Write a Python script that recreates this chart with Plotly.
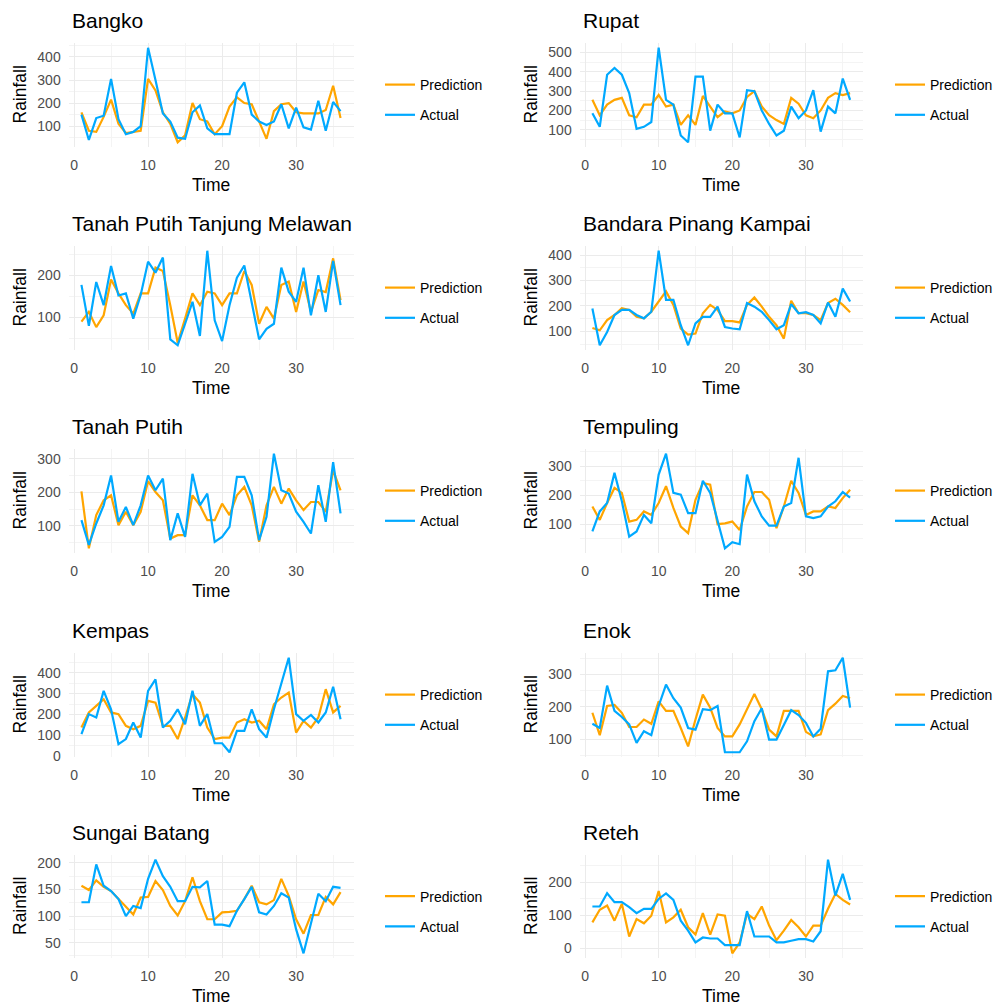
import plotly.graph_objects as go

time = list(range(1, 37))

stations = ["Bangko", "Rupat", "Tanah Putih Tanjung Melawan", "Bandara Pinang Kampai",
            "Tanah Putih", "Tempuling", "Kempas", "Enok", "Sungai Batang", "Reteh"]

bangko_pred = [160, 80, 75, 140, 215, 110, 70, 75, 80, 305, 255, 160, 110, 30, 60, 200, 130, 120,
               65, 100, 185, 225, 200, 195, 120, 45, 165, 195, 200, 160, 155, 155, 155, 170, 275, 135]
bangko_act = [150, 40, 135, 145, 305, 130, 65, 75, 100, 440, 300, 155, 120, 50, 45, 160, 190, 90,
              65, 65, 65, 245, 290, 150, 120, 105, 120, 195, 90, 180, 95, 85, 210, 80, 205, 165]

rupat_pred = [255, 175, 230, 255, 265, 175, 165, 230, 230, 280, 220, 230, 125, 175, 125, 275, 220, 165,
              195, 185, 200, 270, 300, 220, 175, 150, 130, 265, 235, 175, 160, 200, 265, 290, 280, 290]
rupat_act = [185, 115, 385, 420, 385, 290, 105, 115, 140, 525, 255, 230, 70, 35, 375, 375, 95, 230,
             185, 185, 60, 305, 300, 200, 130, 70, 95, 220, 160, 200, 305, 90, 220, 185, 365, 255]

tptm_pred = [90, 113, 77, 105, 190, 157, 129, 109, 157, 157, 218, 210, 129, 40, 97, 157, 129, 161,
             157, 129, 157, 157, 210, 177, 85, 125, 97, 177, 185, 113, 185, 113, 165, 160, 240, 141]
tptm_act = [177, 80, 184, 129, 222, 152, 157, 97, 153, 232, 206, 242, 48, 34, 85, 137, 56, 258,
            93, 44, 129, 194, 223, 137, 48, 73, 85, 218, 161, 137, 218, 105, 200, 113, 234, 129]

bpk_pred = [113, 104, 144, 164, 191, 184, 157, 151, 177, 217, 257, 204, 111, 87, 91, 171, 204, 184,
            140, 140, 135, 204, 233, 197, 157, 124, 71, 220, 171, 171, 164, 144, 211, 228, 204, 175]
bpk_act = [190, 45, 97, 164, 184, 184, 164, 151, 177, 417, 224, 224, 124, 45, 131, 157, 157, 197,
           117, 111, 108, 211, 197, 177, 144, 108, 124, 207, 171, 175, 164, 131, 213, 157, 268, 217]

tp_pred = [203, 33, 132, 176, 191, 102, 142, 102, 142, 233, 201, 176, 62, 72, 72, 191, 161, 117,
           117, 166, 132, 191, 216, 161, 52, 161, 216, 166, 211, 176, 147, 171, 171, 142, 265, 206]
tp_act = [117, 43, 107, 161, 250, 112, 156, 102, 161, 250, 206, 241, 57, 137, 67, 255, 161, 196,
          52, 67, 97, 246, 246, 191, 57, 127, 315, 206, 196, 142, 112, 77, 221, 112, 290, 137]

temp_pred = [161, 115, 173, 225, 208, 109, 115, 144, 132, 173, 231, 156, 92, 69, 184, 242, 236, 100,
             103, 109, 80, 161, 211, 211, 184, 86, 161, 250, 208, 132, 144, 144, 161, 156, 190, 219]
temp_act = [75, 144, 173, 277, 179, 57, 75, 132, 103, 271, 343, 208, 202, 138, 138, 250, 208, 109,
            17, 38, 31, 271, 179, 127, 95, 95, 161, 173, 329, 127, 121, 127, 161, 179, 211, 192]

kempas_pred = [138, 210, 241, 273, 210, 202, 146, 130, 146, 265, 257, 146, 146, 83, 186, 297, 257, 138,
               83, 90, 90, 162, 178, 162, 170, 130, 249, 281, 305, 114, 170, 138, 186, 321, 210, 241]
kempas_act = [106, 202, 186, 313, 225, 59, 83, 162, 90, 313, 368, 138, 170, 225, 154, 313, 146, 202,
              63, 63, 20, 122, 122, 225, 130, 90, 225, 352, 471, 202, 170, 198, 162, 210, 332, 178]

enok_pred = [182, 113, 203, 206, 182, 138, 138, 161, 148, 217, 188, 188, 135, 78, 161, 238, 198, 135,
             109, 109, 146, 193, 240, 193, 130, 109, 188, 188, 188, 123, 109, 115, 190, 210, 234, 227]
enok_act = [148, 135, 266, 188, 169, 146, 89, 125, 113, 203, 269, 227, 198, 135, 130, 193, 190, 203,
            60, 60, 60, 94, 156, 196, 99, 99, 146, 190, 175, 151, 109, 133, 310, 313, 352, 198]

sb_pred = [157, 149, 167, 155, 147, 132, 117, 103, 135, 136, 166, 149, 119, 101, 128, 173, 128, 94,
           94, 107, 108, 110, 132, 157, 126, 122, 130, 170, 138, 94, 67, 102, 102, 136, 122, 145]
sb_act = [126, 126, 197, 157, 147, 132, 100, 119, 115, 170, 206, 175, 155, 128, 128, 155, 154, 166,
          84, 84, 81, 110, 132, 155, 107, 103, 119, 143, 135, 75, 30, 84, 142, 128, 155, 153]

reteh_pred = [78, 116, 129, 83, 134, 35, 88, 75, 98, 173, 78, 93, 116, 63, 41, 106, 41, 102,
              98, -16, 17, 104, 88, 126, 68, 24, 53, 85, 63, 35, 68, 68, 119, 164, 146, 132]
reteh_act = [126, 126, 166, 139, 139, 124, 106, 119, 119, 149, 166, 146, 83, 53, 17, 32, 29, 29,
             9, 9, 9, 112, 35, 35, 35, 17, 17, 22, 27, 27, 20, 51, 268, 159, 225, 146]

predictions = [bangko_pred, rupat_pred, tptm_pred, bpk_pred, tp_pred,
               temp_pred, kempas_pred, enok_pred, sb_pred, reteh_pred]
actuals = [bangko_act, rupat_act, tptm_act, bpk_act, tp_act,
           temp_act, kempas_act, enok_act, sb_act, reteh_act]

y_dtick = [100, 100, 100, 100, 100, 100, 100, 100, 50, 100]
x_ticks = [0, 10, 20, 30]

W, H = 1005, 1007
col_px = [(68.5, 353.5), (579.5, 863.0)]
row_px = [(43, 147), (246, 350), (449, 553), (653, 757), (855, 958)]
legend_x_px = [380, 890]

ORANGE = "#FFA500"
BLUE = "#00A9FF"
FONT = "Liberation Sans, Arial, sans-serif"

fig = go.Figure()
layout = dict(
    width=W, height=H, margin=dict(l=0, r=0, t=0, b=0),
    paper_bgcolor="white", plot_bgcolor="white",
    font=dict(family=FONT, color="black"),
    annotations=[],
)

def px_x(v):
    return v / W

def px_y(v):
    return 1 - v / H

for i, name in enumerate(stations):
    r, c = divmod(i, 2)
    x0, x1 = col_px[c]
    y0, y1 = row_px[r]
    ax = "" if i == 0 else str(i + 1)
    leg = "legend" if i == 0 else f"legend{i + 1}"

    pred = predictions[i]
    act = actuals[i]
    lo = min(min(pred), min(act))
    hi = max(max(pred), max(act))
    pad = (hi - lo) * 0.05
    xpad = (max(time) - min(time)) * 0.05

    fig.add_trace(go.Scatter(x=time, y=pred, mode="lines", name="Prediction",
                             line=dict(color=ORANGE, width=2.2),
                             xaxis="x" + ax, yaxis="y" + ax, legend=leg,
                             legendgroup=f"p{i}"))
    fig.add_trace(go.Scatter(x=time, y=act, mode="lines", name="Actual",
                             line=dict(color=BLUE, width=2.2),
                             xaxis="x" + ax, yaxis="y" + ax, legend=leg,
                             legendgroup=f"a{i}"))

    layout["xaxis" + ax] = dict(
        domain=[px_x(x0), px_x(x1)], anchor="y" + ax,
        range=[min(time) - xpad, max(time) + xpad],
        tickmode="array", tickvals=x_ticks,
        showgrid=True, gridcolor="#EBEBEB", gridwidth=1.1,
        minor=dict(showgrid=True, gridcolor="#F4F4F4", gridwidth=1, dtick=5, tick0=0),
        zeroline=False, showline=False,
        ticks="outside", ticklen=5, tickcolor="rgba(0,0,0,0)",
        tickfont=dict(size=14, color="#4D4D4D", family=FONT),
        automargin=False, fixedrange=True,
    )
    layout["yaxis" + ax] = dict(
        domain=[px_y(y1), px_y(y0)], anchor="x" + ax,
        range=[lo - pad, hi + pad],
        tick0=0, dtick=y_dtick[i],
        showgrid=True, gridcolor="#EBEBEB", gridwidth=1.1,
        minor=dict(showgrid=True, gridcolor="#F4F4F4", gridwidth=1,
                   dtick=y_dtick[i] / 2, tick0=0),
        zeroline=False, showline=False,
        ticks="outside", ticklen=4, tickcolor="rgba(0,0,0,0)",
        tickfont=dict(size=14, color="#4D4D4D", family=FONT),
        automargin=False, fixedrange=True,
    )
    layout[leg] = dict(
        x=px_x(legend_x_px[c]), y=px_y((y0 + y1) / 2 + 5),
        xanchor="left", yanchor="middle",
        bgcolor="rgba(0,0,0,0)", borderwidth=0,
        font=dict(size=14, color="black", family=FONT),
        traceorder="grouped", tracegroupgap=9,
    )
    # panel title
    layout["annotations"].append(dict(
        text=name, x=px_x(x0 + 1), y=px_y(y0 - 9), xref="paper", yref="paper",
        xanchor="left", yanchor="bottom", showarrow=False,
        font=dict(size=21, color="black", family=FONT),
    ))
    # x axis title
    layout["annotations"].append(dict(
        text="Time", x=px_x((x0 + x1) / 2), y=px_y(y1 + 38), xref="paper", yref="paper",
        xanchor="center", yanchor="middle", showarrow=False,
        font=dict(size=17.5, color="black", family=FONT),
    ))
    # y axis title
    layout["annotations"].append(dict(
        text="Rainfall", x=px_x(x0 - 49), y=px_y((y0 + y1) / 2), xref="paper", yref="paper",
        xanchor="center", yanchor="middle", showarrow=False, textangle=-90,
        font=dict(size=17.5, color="black", family=FONT),
    ))

fig.update_layout(**layout)
fig.write_html(
    "out.html",
    config={"displayModeBar": False},
    post_script="document.body.style.margin='0';document.body.style.padding='0';"
                "document.body.style.overflow='hidden';",
)
